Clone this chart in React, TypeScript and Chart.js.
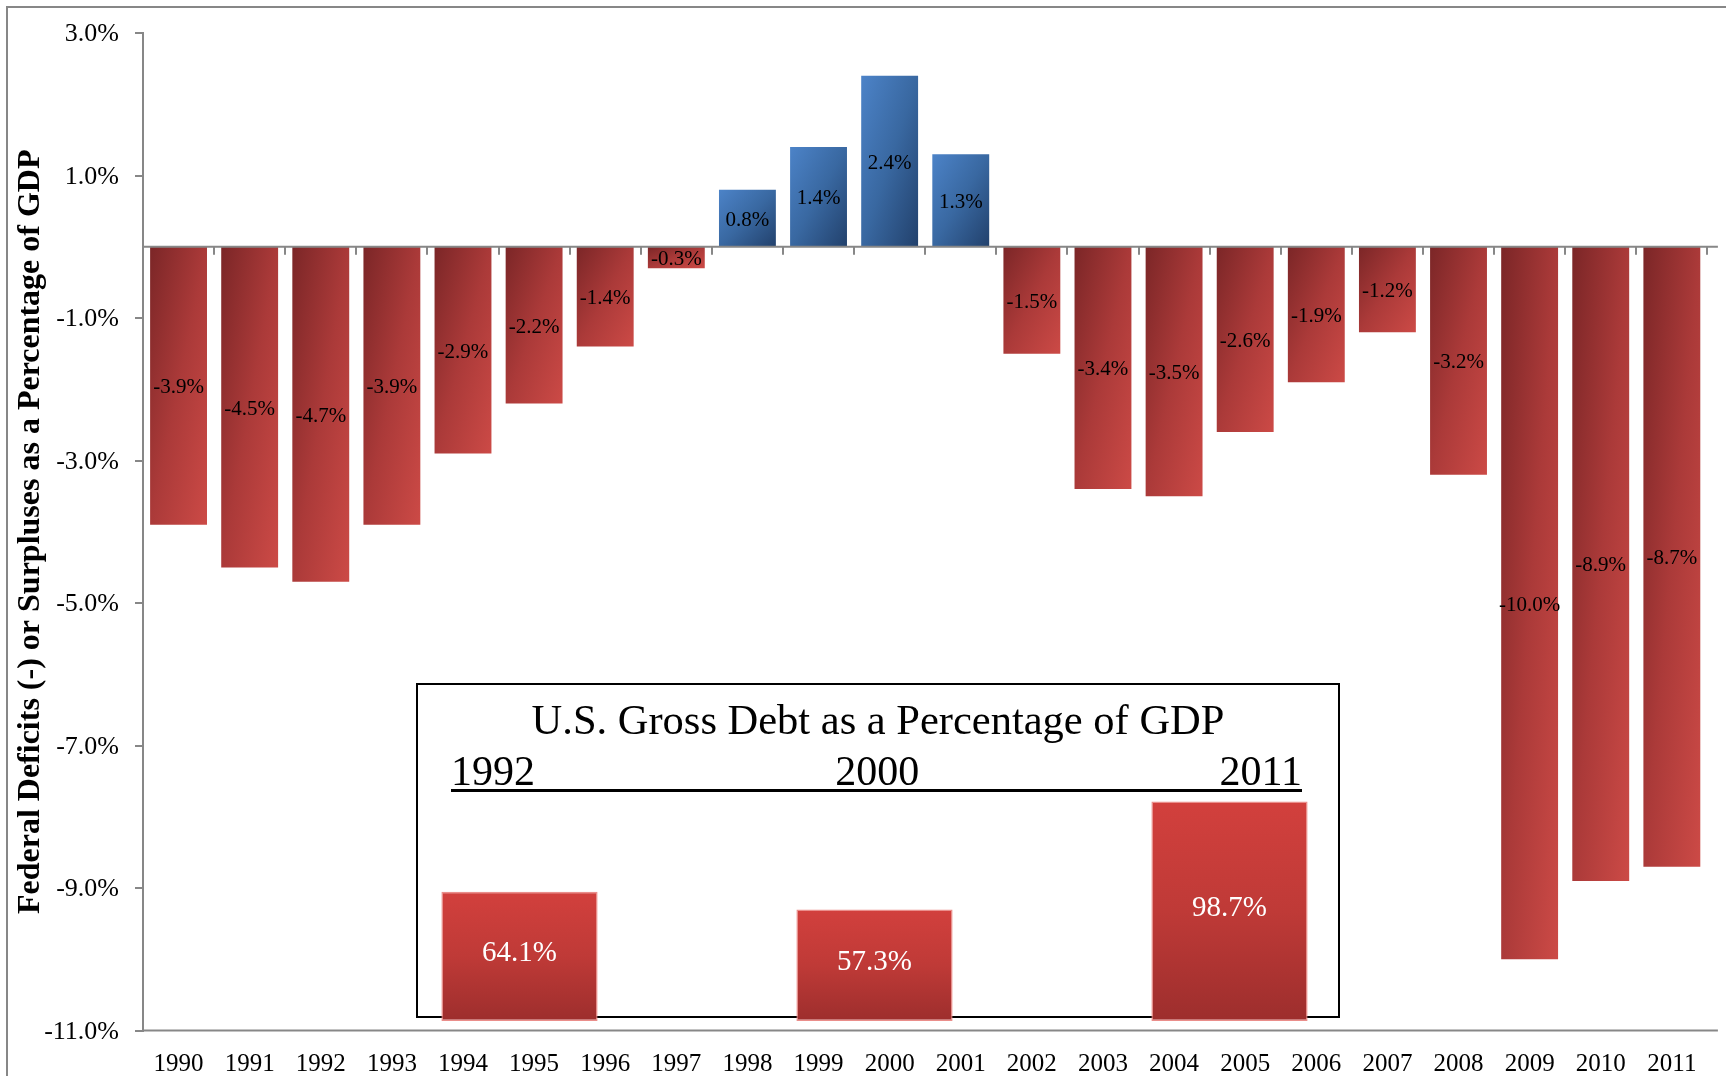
import React, { useEffect, useRef } from 'react';
import { Chart, registerables } from 'chart.js';

Chart.register(...registerables);

// ---------- data ----------
const years = ['1990', '1991', '1992', '1993', '1994', '1995', '1996', '1997', '1998', '1999', '2000', '2001', '2002', '2003', '2004', '2005', '2006', '2007', '2008', '2009', '2010', '2011'];
const deficits = [-3.9, -4.5, -4.7, -3.9, -2.9, -2.2, -1.4, -0.3, 0.8, 1.4, 2.4, 1.3, -1.5, -3.4, -3.5, -2.6, -1.9, -1.2, -3.2, -10.0, -8.9, -8.7];
const yAxisMin = -11;
const yAxisMax = 3;
const yAxisStep = 2;
const yAxisTitle = 'Federal Deficits (-) or Surpluses as a Percentage of GDP';

const debtYears = ['1992', '2000', '2011'];
const debtValues = [64.1, 57.3, 98.7];
const insetTitle = 'U.S. Gross Debt as a Percentage of GDP';
const insetAxisMin = 14.5;
const insetAxisMax = 101.2;

// ---------- styles ----------
const FONT = "'Liberation Serif', 'Times New Roman', serif";
const AXIS_GREY = '#878787';
const redStops: [number, string][] = [[0, '#7b2627'], [0.5, '#ab3a39'], [1, '#cc4a46']];
const blueStops: [number, string][] = [[0, '#4c83c8'], [0.5, '#3968a1'], [1, '#22416c']];

function diagGradient(ctx: CanvasRenderingContext2D, l: number, t: number, w: number, h: number, stops: [number, string][]) {
  const ww = Math.max(w, 1);
  const hh = Math.max(h, 1);
  const s = 2 / (1 / (ww * ww) + 1 / (hh * hh));
  const g = ctx.createLinearGradient(l, t, l + s / ww, t + s / hh);
  stops.forEach(([o, c]) => g.addColorStop(o, c));
  return g;
}

const zeroAxisPlugin = {
  id: 'zeroAxis',
  afterDatasetsDraw(chart: any) {
    const { ctx, chartArea, scales } = chart;
    const y0 = scales.y.getPixelForValue(0);
    const n = years.length;
    const cw = (chartArea.right - chartArea.left) / n;
    ctx.save();
    ctx.strokeStyle = AXIS_GREY;
    ctx.lineWidth = 2;
    ctx.beginPath();
    ctx.moveTo(chartArea.left, y0);
    ctx.lineTo(chartArea.right + 10.5, y0);
    for (let i = 1; i <= n; i++) {
      const xx = Math.round(chartArea.left + i * cw);
      ctx.moveTo(xx, y0);
      ctx.lineTo(xx, y0 + 8);
    }
    ctx.moveTo(chartArea.left - 1, chartArea.bottom);
    ctx.lineTo(chartArea.right + 10.5, chartArea.bottom);
    ctx.stroke();
    ctx.restore();
  },
};

const mainLabelPlugin = {
  id: 'mainLabels',
  afterDatasetsDraw(chart: any) {
    const { ctx } = chart;
    const meta = chart.getDatasetMeta(0);
    ctx.save();
    ctx.font = `21px ${FONT}`;
    ctx.fillStyle = '#000';
    ctx.textAlign = 'center';
    ctx.textBaseline = 'middle';
    meta.data.forEach((el: any, i: number) => {
      const v = deficits[i];
      ctx.fillText(v.toFixed(1) + '%', el.x, (el.y + el.base) / 2 + 2);
    });
    ctx.restore();
  },
};

const insetLabelPlugin = {
  id: 'insetLabels',
  afterDatasetsDraw(chart: any) {
    const { ctx, chartArea } = chart;
    const meta = chart.getDatasetMeta(0);
    ctx.save();
    ctx.font = `29px ${FONT}`;
    ctx.fillStyle = '#ffffff';
    ctx.textAlign = 'center';
    ctx.textBaseline = 'middle';
    meta.data.forEach((el: any, i: number) => {
      const b = Math.min(el.base, chartArea.bottom);
      ctx.fillText(debtValues[i].toFixed(1) + '%', el.x, (el.y + b) / 2 - 3);
    });
    ctx.restore();
  },
};

export default function App() {
  const mainRef = useRef<HTMLCanvasElement | null>(null);
  const insetRef = useRef<HTMLCanvasElement | null>(null);

  useEffect(() => {
    if (!mainRef.current || !insetRef.current) return;

    const main = new Chart(mainRef.current, {
      type: 'bar',
      data: {
        labels: years,
        datasets: [
          {
            data: deficits,
            borderWidth: 0,
            barPercentage: 0.8,
            categoryPercentage: 1.0,
            backgroundColor: (c: any) => {
              if (c.type !== 'data') return '#ab3a39';
              const chart = c.chart;
              const xs = chart.scales && chart.scales.x;
              const ys = chart.scales && chart.scales.y;
              if (!xs || !ys || !xs.width || !ys.height) return '#ab3a39';
              const v = c.raw as number;
              const cw = xs.width / years.length;
              const w = cw * 0.8;
              const cx = xs.getPixelForValue(c.dataIndex);
              const p0 = ys.getPixelForValue(0);
              const p1 = ys.getPixelForValue(v);
              const t = Math.min(p0, p1);
              const h = Math.abs(p1 - p0);
              return diagGradient(chart.ctx, cx - w / 2, t, w, h, v >= 0 ? blueStops : redStops);
            },
          },
        ],
      },
      options: {
        responsive: false,
        animation: false,
        devicePixelRatio: 1,
        layout: { padding: { top: 33, right: 18.6, left: 0, bottom: 0 } },
        plugins: { legend: { display: false }, tooltip: { enabled: false } },
        scales: {
          x: {
            grid: { display: false, drawTicks: false },
            border: { display: false },
            ticks: { color: '#000', font: { family: FONT, size: 25 }, padding: 19, maxRotation: 0, autoSkip: false },
            afterFit: (s: any) => { s.height = 45.5; },
          },
          y: {
            min: yAxisMin,
            max: yAxisMax,
            ticks: {
              stepSize: yAxisStep,
              color: '#000',
              font: { family: FONT, size: 26 },
              padding: 16,
              labelOffset: 1.5,
              callback: (v: any) => Number(v).toFixed(1) + '%',
            },
            grid: { display: true, drawOnChartArea: false, drawTicks: true, tickLength: 8, color: AXIS_GREY, lineWidth: 2 },
            border: { display: true, color: AXIS_GREY, width: 2 },
            title: {
              display: true,
              text: yAxisTitle,
              color: '#000',
              font: { family: FONT, size: 32, weight: 'bold' },
              padding: { top: 12, bottom: 0 },
            },
            afterFit: (s: any) => { s.width = 143; },
          },
        },
      },
      plugins: [zeroAxisPlugin, mainLabelPlugin],
    } as any);

    const inset = new Chart(insetRef.current, {
      type: 'bar',
      data: {
        labels: debtYears,
        datasets: [
          {
            data: debtValues,
            base: insetAxisMin,
            barPercentage: 0.44,
            categoryPercentage: 1.0,
            borderWidth: 1.5,
            borderSkipped: false,
            borderColor: 'rgba(232,130,126,0.9)',
            backgroundColor: (c: any) => {
              if (c.type !== 'data') return '#c33b38';
              const chart = c.chart;
              const ys = chart.scales && chart.scales.y;
              if (!ys || !ys.height) return '#c33b38';
              const top = ys.getPixelForValue(c.raw as number);
              const bottom = ys.bottom;
              const g = chart.ctx.createLinearGradient(0, top, 0, bottom);
              g.addColorStop(0, '#d2403d');
              g.addColorStop(0.5, '#bf3a37');
              g.addColorStop(1, '#9d2e2d');
              return g;
            },
          },
        ],
      },
      options: {
        responsive: false,
        animation: false,
        devicePixelRatio: 1,
        layout: { padding: 0 },
        plugins: { legend: { display: false }, tooltip: { enabled: false } },
        scales: {
          x: { display: false },
          y: { display: false, min: insetAxisMin, max: insetAxisMax },
        },
      },
      plugins: [insetLabelPlugin],
    } as any);

    return () => {
      main.destroy();
      inset.destroy();
    };
  }, []);

  return (
    <div style={{ position: 'absolute', left: 0, top: 0, width: 1726, height: 1076, overflow: 'hidden', background: '#fff' }}>
      <div style={{ position: 'absolute', left: 6, top: 6, width: 1800, height: 1200, borderTop: `2px solid ${AXIS_GREY}`, borderLeft: `2px solid ${AXIS_GREY}` }} />
      <canvas ref={mainRef} width={1726} height={1076} style={{ position: 'absolute', left: 0, top: 0, display: 'block' }} />
      <div style={{ position: 'absolute', left: 416, top: 683, width: 924, height: 335, boxSizing: 'border-box', border: '2px solid #000' }} />
      <div style={{ position: 'absolute', left: 416, top: 699, width: 924, textAlign: 'center', fontFamily: FONT, fontSize: 42.5, lineHeight: '42px', color: '#000', whiteSpace: 'nowrap' }}>
        {insetTitle}
      </div>
      <div style={{ position: 'absolute', left: 451, top: 752, width: 851, display: 'flex', justifyContent: 'space-between', fontFamily: FONT, fontSize: 42, lineHeight: '38px', color: '#000' }}>
        {debtYears.map((y) => (
          <span key={y}>{y}</span>
        ))}
      </div>
      <div style={{ position: 'absolute', left: 451, top: 789, width: 851, height: 3, background: '#000' }} />
      <canvas ref={insetRef} width={1065} height={226} style={{ position: 'absolute', left: 342, top: 795, display: 'block' }} />
    </div>
  );
}
